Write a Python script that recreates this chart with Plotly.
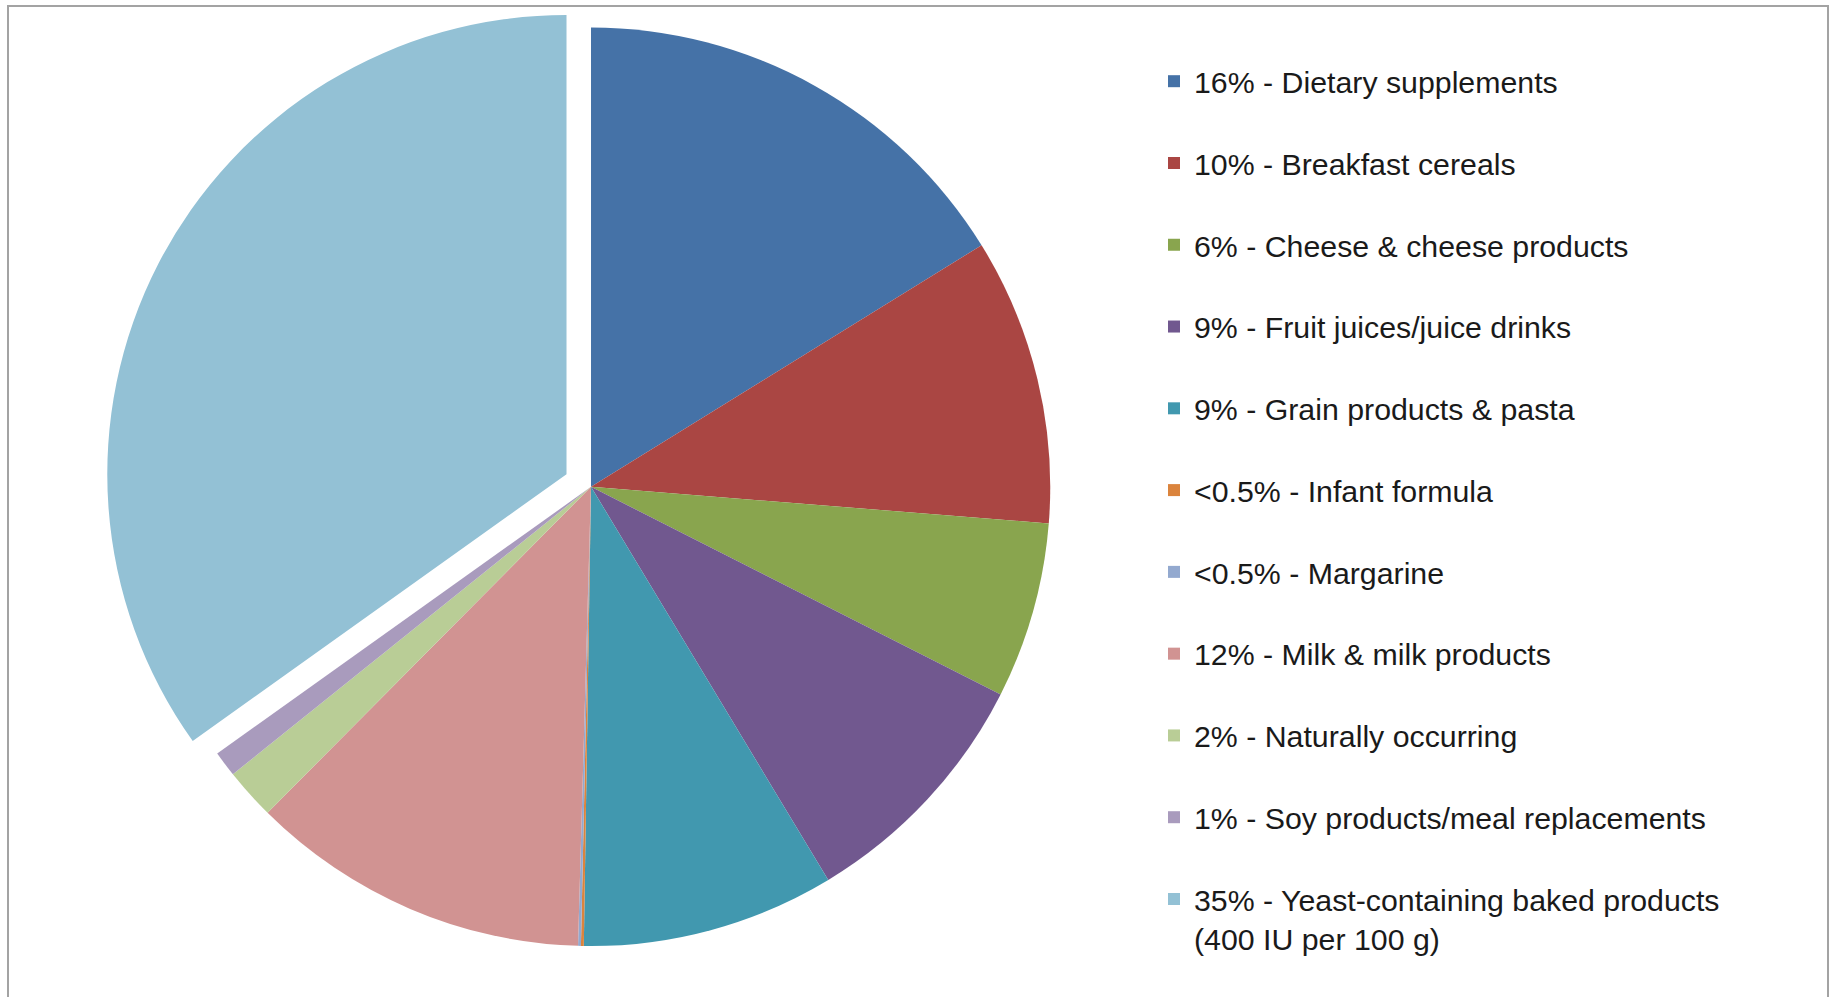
import plotly.graph_objects as go

labels = [
    "16% - Dietary supplements",
    "10% - Breakfast cereals",
    "6% - Cheese & cheese products",
    "9% - Fruit juices/juice drinks",
    "9% - Grain products & pasta",
    "<0.5% - Infant formula",
    "<0.5% - Margarine",
    "12% - Milk & milk products",
    "2% - Naturally occurring",
    "1% - Soy products/meal replacements",
    "35% - Yeast-containing baked products<br>(400 IU per 100 g)",
]
values = [16.2, 10.1, 6.2, 8.9, 8.9, 0.1, 0.1, 12.0, 1.8, 0.9, 34.9]
colors = ["#4572A7", "#AA4643", "#89A54E", "#71588F", "#4198AF", "#DB843D",
          "#93A9CF", "#D19392", "#B9CD96", "#A99BBD", "#93C1D5"]
pulls = [0, 0, 0, 0, 0, 0, 0, 0, 0, 0, 0.06]

W, H = 1836, 997

# legend labels: add a blank second line to single-line entries for spacing
legend_labels = [l if "<br>" in l else l + "<br> " for l in labels]

fig = go.Figure(go.Pie(
    labels=legend_labels,
    values=values,
    marker=dict(colors=colors, line=dict(width=0)),
    pull=pulls,
    sort=False,
    direction="clockwise",
    rotation=0,
    textinfo="none",
    domain=dict(x=[0.0563, 0.5875], y=[0.0235, 1.0]),
    hovertemplate="%{label}<extra></extra>",
))

fig.update_layout(
    width=W, height=H,
    margin=dict(l=0, r=0, t=0, b=0),
    paper_bgcolor="white",
    plot_bgcolor="white",
    font=dict(family="Liberation Sans, Arial, sans-serif", color="#1a1a1a"),
    legend=dict(
        x=1154 / W, y=1 - 55 / H, xanchor="left", yanchor="top",
        font=dict(size=30.3, family="Liberation Sans, Arial, sans-serif", color="#1a1a1a"),
        valign="top",
        bgcolor="rgba(0,0,0,0)",
        traceorder="normal",
    ),
    shapes=[dict(
        type="rect", xref="paper", yref="paper",
        x0=8 / W, x1=1828 / W, y0=-0.02, y1=1 - 6 / H,
        line=dict(color="#a3a3a3", width=2),
        fillcolor="rgba(0,0,0,0)", layer="below",
    )],
)

fig.write_html("out.html", config={"displayModeBar": False},
               post_script="document.body.style.margin='0';")
